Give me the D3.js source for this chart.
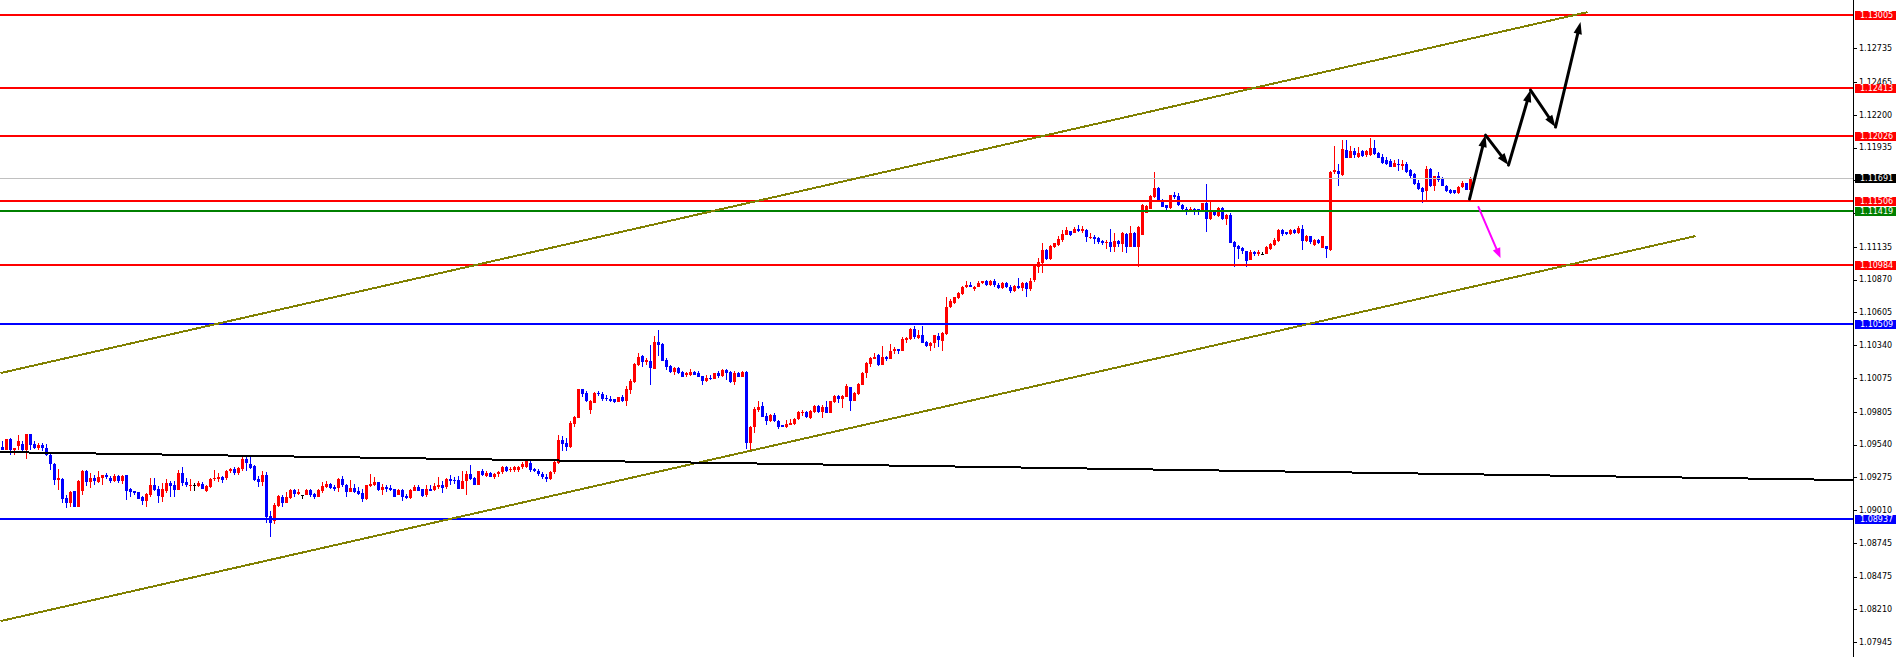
<!DOCTYPE html>
<html><head><meta charset="utf-8">
<script src="https://cdn.jsdelivr.net/npm/d3@7"></script>
<style>html,body{margin:0;padding:0;background:#fff;overflow:hidden}</style>
</head><body><svg id="c" width="1896" height="657"></svg>
<script>
const opens=[
1.09518,1.09497,1.09586,1.09492,1.09524,1.09545,1.09497,1.09621,1.09545,1.09508,
1.09540,1.09513,1.09459,1.09384,1.09255,1.09260,1.09110,1.09072,1.09163,1.09040,
1.09169,1.09330,1.09239,1.09271,1.09239,1.09266,1.09292,1.09271,1.09249,1.09287,
1.09244,1.09292,1.09179,1.09163,1.09153,1.09115,1.09088,1.09131,1.09212,1.09179,
1.09120,1.09169,1.09228,1.09217,1.09174,1.09314,1.09239,1.09206,1.09217,1.09206,
1.09223,1.09169,1.09201,1.09260,1.09260,1.09276,1.09266,1.09325,1.09346,1.09309,
1.09346,1.09421,1.09384,1.09367,1.09265,1.09238,1.09292,1.08964,1.08921,1.09045,
1.09120,1.09071,1.09109,1.09174,1.09141,1.09136,1.09136,1.09174,1.09141,1.09120,
1.09168,1.09195,1.09222,1.09201,1.09190,1.09265,1.09211,1.09158,1.09190,1.09168,
1.09147,1.09098,1.09206,1.09211,1.09238,1.09174,1.09201,1.09190,1.09179,1.09136,
1.09174,1.09125,1.09109,1.09168,1.09201,1.09179,1.09136,1.09184,1.09174,1.09195,
1.09211,1.09195,1.09265,1.09254,1.09254,1.09184,1.09244,1.09303,1.09271,1.09217,
1.09324,1.09287,1.09308,1.09281,1.09300,1.09320,1.09356,1.09335,1.09335,1.09335,
1.09356,1.09361,1.09393,1.09345,1.09330,1.09300,1.09280,1.09260,1.09320,1.09388,
1.09577,1.09555,1.09517,1.09706,1.09754,1.09985,1.09959,1.09819,1.09878,1.09959,
1.09948,1.09916,1.09910,1.09905,1.09883,1.09926,1.09894,1.09980,1.10045,1.10179,
1.10254,1.10206,1.10217,1.10152,1.10367,1.10351,1.10222,1.10174,1.10125,1.10158,
1.10125,1.10098,1.10098,1.10125,1.10115,1.10093,1.10055,1.10077,1.10072,1.10115,
1.10093,1.10142,1.10125,1.10045,1.10114,1.10087,1.10124,1.09554,1.09678,1.09818,
1.09850,1.09769,1.09732,1.09775,1.09732,1.09699,1.09683,1.09699,1.09705,1.09742,
1.09791,1.09802,1.09753,1.09802,1.09850,1.09802,1.09839,1.09796,1.09882,1.09931,
1.09909,1.09925,1.10001,1.09893,1.09947,1.10022,1.10114,1.10189,1.10232,1.10264,
1.10178,1.10248,1.10232,1.10291,1.10307,1.10296,1.10383,1.10388,1.10474,1.10399,
1.10420,1.10366,1.10334,1.10356,1.10415,1.10377,1.10431,1.10646,1.10679,1.10722,
1.10754,1.10808,1.10829,1.10791,1.10813,1.10840,1.10856,1.10830,1.10860,1.10825,
1.10800,1.10840,1.10810,1.10780,1.10820,1.10800,1.10840,1.10790,1.10865,1.10973,
1.11000,1.11108,1.11038,1.11129,1.11145,1.11188,1.11231,1.11258,1.11247,1.11280,
1.11264,1.11269,1.11204,1.11215,1.11204,1.11183,1.11167,1.11172,1.11129,1.11183,
1.11156,1.11237,1.11134,1.11247,1.11134,1.11231,1.11409,1.11441,1.11533,1.11608,
1.11511,1.11468,1.11446,1.11549,1.11543,1.11473,1.11441,1.11430,1.11441,1.11436,
1.11430,1.11484,1.11355,1.11420,1.11382,1.11446,1.11355,1.11393,1.11177,1.11140,
1.11124,1.11097,1.11031,1.11090,1.11080,1.11080,1.11080,1.11117,1.11150,1.11182,
1.11273,1.11252,1.11236,1.11273,1.11246,1.11279,1.11182,1.11219,1.11150,1.11193,
1.11128,1.11139,1.11112,1.11736,1.11747,1.11715,1.11914,1.11854,1.11903,1.11860,
1.11903,1.11871,1.11871,1.11930,1.11892,1.11860,1.11838,1.11827,1.11779,1.11806,
1.11784,1.11801,1.11752,1.11725,1.11645,1.11612,1.11585,1.11763,1.11623,1.11704,
1.11688,1.11628,1.11596,1.11591,1.11569,1.11618,1.11645,1.11596];
const highs=[
1.09567,1.09586,1.09594,1.09513,1.09613,1.09567,1.09626,1.09626,1.09567,1.09551,
1.09551,1.09545,1.09470,1.09389,1.09341,1.09266,1.09131,1.09169,1.09169,1.09255,
1.09336,1.09336,1.09309,1.09292,1.09325,1.09298,1.09309,1.09287,1.09303,1.09298,
1.09292,1.09298,1.09190,1.09169,1.09158,1.09126,1.09147,1.09271,1.09271,1.09206,
1.09228,1.09260,1.09249,1.09244,1.09336,1.09357,1.09266,1.09260,1.09233,1.09249,
1.09239,1.09212,1.09266,1.09336,1.09309,1.09287,1.09336,1.09352,1.09357,1.09357,
1.09438,1.09448,1.09443,1.09373,1.09287,1.09330,1.09319,1.09002,1.09066,1.09131,
1.09136,1.09158,1.09184,1.09179,1.09179,1.09136,1.09179,1.09184,1.09152,1.09184,
1.09238,1.09244,1.09228,1.09211,1.09271,1.09287,1.09222,1.09254,1.09222,1.09195,
1.09179,1.09217,1.09303,1.09276,1.09238,1.09222,1.09217,1.09211,1.09184,1.09184,
1.09179,1.09141,1.09179,1.09217,1.09211,1.09184,1.09211,1.09211,1.09228,1.09276,
1.09244,1.09271,1.09292,1.09281,1.09287,1.09324,1.09324,1.09378,1.09281,1.09330,
1.09340,1.09330,1.09320,1.09310,1.09330,1.09370,1.09370,1.09355,1.09370,1.09370,
1.09395,1.09420,1.09410,1.09350,1.09345,1.09320,1.09300,1.09330,1.09420,1.09614,
1.09609,1.09593,1.09733,1.09770,1.09991,1.09991,1.09975,1.09900,1.09964,1.09975,
1.09964,1.09942,1.09932,1.09910,1.09926,1.09937,1.10012,1.10066,1.10201,1.10281,
1.10260,1.10238,1.10346,1.10416,1.10464,1.10357,1.10238,1.10185,1.10168,1.10163,
1.10136,1.10125,1.10152,1.10136,1.10131,1.10093,1.10104,1.10098,1.10120,1.10131,
1.10152,1.10152,1.10131,1.10131,1.10124,1.10130,1.10130,1.09689,1.09845,1.09893,
1.09882,1.09791,1.09785,1.09796,1.09737,1.09699,1.09737,1.09742,1.09753,1.09807,
1.09818,1.09807,1.09818,1.09855,1.09861,1.09855,1.09888,1.09893,1.09936,1.09941,
1.09941,1.10028,1.10006,1.09963,1.10033,1.10124,1.10205,1.10248,1.10275,1.10270,
1.10334,1.10254,1.10350,1.10329,1.10313,1.10404,1.10410,1.10479,1.10496,1.10463,
1.10496,1.10377,1.10366,1.10426,1.10436,1.10447,1.10727,1.10711,1.10732,1.10770,
1.10818,1.10856,1.10851,1.10818,1.10862,1.10862,1.10870,1.10870,1.10875,1.10840,
1.10850,1.10850,1.10825,1.10830,1.10880,1.10850,1.10850,1.10880,1.10990,1.11043,
1.11161,1.11118,1.11145,1.11167,1.11221,1.11269,1.11296,1.11264,1.11290,1.11312,
1.11301,1.11274,1.11247,1.11226,1.11210,1.11188,1.11188,1.11280,1.11247,1.11188,
1.11253,1.11242,1.11301,1.11253,1.11301,1.11479,1.11473,1.11554,1.11737,1.11613,
1.11516,1.11473,1.11554,1.11576,1.11565,1.11479,1.11452,1.11452,1.11446,1.11441,
1.11490,1.11640,1.11511,1.11425,1.11452,1.11452,1.11398,1.11403,1.11183,1.11145,
1.11134,1.11102,1.11106,1.11100,1.11106,1.11090,1.11139,1.11166,1.11209,1.11279,
1.11279,1.11257,1.11279,1.11279,1.11306,1.11311,1.11230,1.11225,1.11198,1.11198,
1.11225,1.11144,1.11747,1.11951,1.11806,1.11994,1.11999,1.11946,1.11935,1.11940,
1.11914,1.11914,1.12010,1.11994,1.11898,1.11881,1.11860,1.11844,1.11838,1.11844,
1.11838,1.11822,1.11758,1.11731,1.11677,1.11618,1.11784,1.11768,1.11709,1.11741,
1.11698,1.11634,1.11601,1.11596,1.11628,1.11666,1.11650,1.11698];
const lows=[
1.09492,1.09492,1.09459,1.09459,1.09497,1.09486,1.09427,1.09492,1.09502,1.09497,
1.09486,1.09448,1.09336,1.09212,1.09174,1.09066,1.09029,1.09034,1.09034,1.09034,
1.09136,1.09206,1.09190,1.09217,1.09233,1.09217,1.09260,1.09228,1.09239,1.09228,
1.09223,1.09093,1.09115,1.09131,1.09104,1.09050,1.09040,1.09115,1.09163,1.09072,
1.09077,1.09147,1.09115,1.09115,1.09174,1.09206,1.09201,1.09163,1.09163,1.09201,
1.09179,1.09158,1.09190,1.09244,1.09239,1.09228,1.09255,1.09314,1.09298,1.09292,
1.09325,1.09330,1.09340,1.09244,1.09201,1.09206,1.08905,1.08797,1.08899,1.09039,
1.09039,1.09066,1.09104,1.09120,1.09136,1.09104,1.09131,1.09120,1.09104,1.09115,
1.09147,1.09190,1.09179,1.09168,1.09158,1.09195,1.09120,1.09158,1.09152,1.09131,
1.09077,1.09093,1.09201,1.09206,1.09168,1.09136,1.09158,1.09163,1.09120,1.09131,
1.09088,1.09104,1.09104,1.09163,1.09163,1.09115,1.09120,1.09163,1.09168,1.09184,
1.09147,1.09184,1.09217,1.09222,1.09179,1.09179,1.09136,1.09254,1.09211,1.09211,
1.09287,1.09281,1.09275,1.09260,1.09280,1.09300,1.09320,1.09320,1.09320,1.09320,
1.09340,1.09350,1.09320,1.09320,1.09290,1.09260,1.09240,1.09250,1.09300,1.09383,
1.09491,1.09491,1.09512,1.09684,1.09754,1.09921,1.09883,1.09786,1.09873,1.09932,
1.09894,1.09889,1.09883,1.09878,1.09883,1.09883,1.09851,1.09948,1.10039,1.10174,
1.10168,1.10185,1.10023,1.10147,1.10254,1.10211,1.10142,1.10120,1.10098,1.10109,
1.10082,1.10082,1.10093,1.10098,1.10082,1.10023,1.10045,1.10061,1.10066,1.10077,
1.10088,1.10061,1.10039,1.10023,1.10081,1.10081,1.09500,1.09495,1.09635,1.09802,
1.09759,1.09699,1.09721,1.09721,1.09667,1.09678,1.09673,1.09694,1.09699,1.09737,
1.09769,1.09753,1.09748,1.09796,1.09791,1.09753,1.09791,1.09791,1.09877,1.09877,
1.09834,1.09920,1.09812,1.09888,1.09941,1.10017,1.10076,1.10162,1.10227,1.10173,
1.10178,1.10216,1.10227,1.10270,1.10270,1.10291,1.10356,1.10383,1.10393,1.10388,
1.10356,1.10329,1.10296,1.10318,1.10323,1.10291,1.10420,1.10641,1.10673,1.10716,
1.10748,1.10802,1.10808,1.10775,1.10808,1.10835,1.10820,1.10815,1.10810,1.10790,
1.10790,1.10800,1.10760,1.10770,1.10790,1.10780,1.10730,1.10780,1.10850,1.10919,
1.10925,1.11027,1.11027,1.11124,1.11140,1.11177,1.11226,1.11221,1.11242,1.11253,
1.11242,1.11172,1.11194,1.11156,1.11156,1.11145,1.11118,1.11091,1.11091,1.11129,
1.11091,1.11086,1.11129,1.11129,1.10973,1.11226,1.11403,1.11436,1.11527,1.11500,
1.11452,1.11430,1.11441,1.11522,1.11463,1.11414,1.11393,1.11425,1.11393,1.11393,
1.11425,1.11253,1.11350,1.11382,1.11377,1.11350,1.11312,1.11161,1.10968,1.11038,
1.11075,1.10973,1.11026,1.11060,1.11063,1.11070,1.11074,1.11106,1.11144,1.11171,
1.11219,1.11230,1.11230,1.11236,1.11236,1.11112,1.11171,1.11160,1.11139,1.11160,
1.11123,1.11042,1.11101,1.11725,1.11628,1.11709,1.11849,1.11849,1.11854,1.11854,
1.11860,1.11860,1.11865,1.11876,1.11849,1.11806,1.11790,1.11774,1.11774,1.11747,
1.11752,1.11731,1.11693,1.11634,1.11596,1.11489,1.11510,1.11618,1.11585,1.11655,
1.11623,1.11575,1.11564,1.11564,1.11564,1.11612,1.11591,1.11591];
const closes=[
1.09497,1.09586,1.09497,1.09508,1.09572,1.09497,1.09621,1.09540,1.09508,1.09540,
1.09508,1.09454,1.09379,1.09255,1.09266,1.09104,1.09072,1.09158,1.09034,1.09249,
1.09330,1.09239,1.09271,1.09249,1.09282,1.09292,1.09276,1.09244,1.09287,1.09249,
1.09287,1.09169,1.09158,1.09147,1.09104,1.09088,1.09142,1.09217,1.09174,1.09126,
1.09179,1.09228,1.09206,1.09174,1.09314,1.09228,1.09212,1.09217,1.09217,1.09228,
1.09185,1.09206,1.09260,1.09271,1.09276,1.09255,1.09325,1.09346,1.09309,1.09352,
1.09427,1.09389,1.09351,1.09254,1.09238,1.09292,1.08959,1.08910,1.09050,1.09125,
1.09071,1.09120,1.09174,1.09141,1.09158,1.09136,1.09174,1.09136,1.09120,1.09174,
1.09206,1.09222,1.09190,1.09184,1.09265,1.09211,1.09158,1.09190,1.09158,1.09141,
1.09098,1.09211,1.09222,1.09238,1.09174,1.09195,1.09179,1.09174,1.09120,1.09174,
1.09120,1.09109,1.09174,1.09195,1.09168,1.09125,1.09184,1.09168,1.09206,1.09217,
1.09190,1.09265,1.09249,1.09244,1.09184,1.09249,1.09303,1.09265,1.09217,1.09324,
1.09292,1.09308,1.09281,1.09300,1.09320,1.09361,1.09330,1.09345,1.09361,1.09361,
1.09383,1.09404,1.09335,1.09330,1.09300,1.09280,1.09260,1.09320,1.09399,1.09577,
1.09544,1.09517,1.09711,1.09760,1.09985,1.09948,1.09889,1.09894,1.09959,1.09948,
1.09905,1.09905,1.09894,1.09883,1.09921,1.09894,1.09985,1.10050,1.10190,1.10249,
1.10206,1.10222,1.10158,1.10367,1.10346,1.10217,1.10168,1.10125,1.10158,1.10115,
1.10088,1.10115,1.10125,1.10104,1.10088,1.10055,1.10077,1.10066,1.10115,1.10093,
1.10142,1.10120,1.10045,1.10115,1.10087,1.10124,1.09554,1.09683,1.09828,1.09845,
1.09764,1.09726,1.09775,1.09732,1.09683,1.09683,1.09705,1.09716,1.09748,1.09802,
1.09802,1.09759,1.09812,1.09850,1.09802,1.09845,1.09796,1.09888,1.09931,1.09909,
1.09931,1.10011,1.09893,1.09958,1.10028,1.10119,1.10194,1.10237,1.10248,1.10178,
1.10248,1.10232,1.10291,1.10307,1.10296,1.10388,1.10399,1.10469,1.10410,1.10426,
1.10361,1.10334,1.10361,1.10420,1.10383,1.10436,1.10646,1.10695,1.10727,1.10765,
1.10813,1.10829,1.10813,1.10813,1.10845,1.10856,1.10830,1.10860,1.10825,1.10800,
1.10840,1.10810,1.10780,1.10820,1.10800,1.10840,1.10790,1.10860,1.10987,1.11011,
1.11108,1.11038,1.11140,1.11161,1.11199,1.11237,1.11269,1.11226,1.11280,1.11264,
1.11274,1.11210,1.11215,1.11199,1.11172,1.11161,1.11172,1.11129,1.11183,1.11156,
1.11247,1.11134,1.11247,1.11134,1.11296,1.11473,1.11463,1.11543,1.11608,1.11511,
1.11457,1.11446,1.11549,1.11533,1.11468,1.11436,1.11430,1.11441,1.11430,1.11430,
1.11484,1.11355,1.11420,1.11387,1.11446,1.11355,1.11393,1.11167,1.11134,1.11118,
1.11097,1.11016,1.11096,1.11074,1.11090,1.11080,1.11133,1.11160,1.11193,1.11273,
1.11241,1.11236,1.11273,1.11246,1.11289,1.11182,1.11225,1.11171,1.11193,1.11166,
1.11219,1.11117,1.11741,1.11752,1.11725,1.11924,1.11854,1.11903,1.11871,1.11887,
1.11865,1.11908,1.11930,1.11881,1.11854,1.11811,1.11806,1.11779,1.11811,1.11790,
1.11806,1.11736,1.11704,1.11639,1.11601,1.11575,1.11763,1.11623,1.11704,1.11672,
1.11628,1.11585,1.11569,1.11569,1.11618,1.11645,1.11596,1.11693];

const tickLabels=["1.12735","1.12465","1.12200","1.11935","1.11670","1.11405","1.11135","1.10870","1.10605","1.10340","1.10075","1.09805","1.09540","1.09275","1.09010","1.08745","1.08475","1.08210","1.07945"];
const redLevels=[1.13005,1.12413,1.12026,1.11506,1.10984];
const greenLevels=[1.11419];
const blueLevels=[1.10509,1.08937];
const lastPrice=1.11691;
// trend lines as [bar index, price]
const upperChannel=[[-0.5,1.10116],[396.25,1.13027]];
const lowerChannel=[[-0.5,1.08116],[423.25,1.11221]];
const baseLine=[[-0.5,1.09479],[462.75,1.09253]];
const forecastPath=[[366.75,1.11519],[370.75,1.12035],[376.5,1.11793],[382,1.12398],[388.25,1.12100],[394.5,1.12947]];
const downArrow=[[369,1.11455],[374.5,1.11043]];

const svg=d3.select('#c');
const axisX=1853;
const x=d3.scaleLinear().domain([0,367]).range([2.5,1470.5]);
const y=d3.scaleLinear().domain([1.07945,1.12735]).range([642.3,48.3]);
const idx=d3.range(closes.length);
const col=i=>closes[i]>opens[i]?'#ff0000':(closes[i]<opens[i]?'#0000ff':'#000000');

svg.append('rect').attr('width',1896).attr('height',657).attr('fill','#ffffff');

// candles
const gC=svg.append('g').attr('shape-rendering','crispEdges');
gC.selectAll('line.w').data(idx).join('line')
  .attr('x1',i=>Math.round(x(i)-0.5)+0.5).attr('x2',i=>Math.round(x(i)-0.5)+0.5)
  .attr('y1',i=>y(highs[i])).attr('y2',i=>y(lows[i]))
  .attr('stroke',col).attr('stroke-width',1);
gC.selectAll('rect.b').data(idx).join('rect')
  .attr('x',i=>Math.round(x(i)-0.5)-1).attr('width',3)
  .attr('y',i=>y(Math.max(opens[i],closes[i])))
  .attr('height',i=>Math.max(1,y(Math.min(opens[i],closes[i]))-y(Math.max(opens[i],closes[i]))))
  .attr('fill',col);

// horizontal levels
const gL=svg.append('g').attr('shape-rendering','crispEdges');
gL.append('line').attr('x1',0).attr('x2',axisX).attr('y1',Math.round(y(lastPrice))+0.5).attr('y2',Math.round(y(lastPrice))+0.5).attr('stroke','#c0c0c0').attr('stroke-width',1);
const levelSets=[[redLevels,'#ff0000'],[greenLevels,'#008000'],[blueLevels,'#0000ff']];
levelSets.forEach(([arr,c])=>{
  gL.selectAll(null).data(arr).join('line')
    .attr('x1',0).attr('x2',axisX).attr('y1',d=>Math.round(y(d))).attr('y2',d=>Math.round(y(d)))
    .attr('stroke',c).attr('stroke-width',2);
});

// trend lines
const line=d3.line().x(d=>x(d[0])).y(d=>y(d[1]));
const gT=svg.append('g').attr('shape-rendering','crispEdges');
[upperChannel,lowerChannel].forEach(p=>gT.append('path').attr('d',line(p)).attr('stroke','#808000').attr('stroke-width',2).attr('fill','none'));
gT.append('path').attr('d',line(baseLine)).attr('stroke','#000000').attr('stroke-width',2).attr('fill','none');

// arrows
function arrow(g,p0,p1,color,w,hl,hw){
  const x0=x(p0[0]),y0=y(p0[1]),x1=x(p1[0]),y1=y(p1[1]);
  const dx=x1-x0,dy=y1-y0,L=Math.hypot(dx,dy),ux=dx/L,uy=dy/L;
  const bx=x1-ux*hl,by=y1-uy*hl;
  g.append('line').attr('x1',x0).attr('y1',y0).attr('x2',bx+ux*2).attr('y2',by+uy*2).attr('stroke',color).attr('stroke-width',w).attr('stroke-linecap','round');
  g.append('polygon').attr('points',[[x1,y1],[bx-uy*hw,by+ux*hw],[bx+uy*hw,by-ux*hw]].map(p=>p.join(',')).join(' ')).attr('fill',color);
}
const gA=svg.append('g');
for(let i=0;i<forecastPath.length-1;i++) arrow(gA,forecastPath[i],forecastPath[i+1],'#000000',3,12,4.2);
arrow(gA,downArrow[0],downArrow[1],'#ff00ff',2,10,4);

// axis
const gX=svg.append('g').attr('shape-rendering','crispEdges');
gX.append('line').attr('x1',axisX+0.5).attr('x2',axisX+0.5).attr('y1',0).attr('y2',657).attr('stroke','#000').attr('stroke-width',1);
const tv=tickLabels.map(Number);
gX.selectAll('line.t').data(tv).join('line')
  .attr('x1',axisX).attr('x2',axisX+4).attr('y1',d=>Math.round(y(d))+0.5).attr('y2',d=>Math.round(y(d))+0.5)
  .attr('stroke','#000');
svg.append('g').selectAll('text').data(tickLabels).join('text')
  .attr('x',1859).attr('y',d=>y(+d)).attr('dy','0.36em')
  .attr('font-family','DejaVu Sans, sans-serif').attr('font-size',8).attr('fill','#000')
  .text(d=>d);

// level tags
const tags=[];
redLevels.forEach(v=>tags.push([v,'#ff0000']));
greenLevels.forEach(v=>tags.push([v,'#008000']));
blueLevels.forEach(v=>tags.push([v,'#0000ff']));
tags.push([lastPrice,'#000000']);
const gG=svg.append('g');
tags.forEach(([v,c])=>{
  const yy=Math.round(y(v));
  gG.append('rect').attr('x',1855).attr('y',yy-4.5).attr('width',41).attr('height',9.5).attr('fill',c).attr('shape-rendering','crispEdges');
  gG.append('text').attr('x',1860).attr('y',yy).attr('dy','0.38em')
    .attr('font-family','DejaVu Sans, sans-serif').attr('font-size',8).attr('fill','#ffffff')
    .text(v.toFixed(5));
});
</script>
</body></html>
